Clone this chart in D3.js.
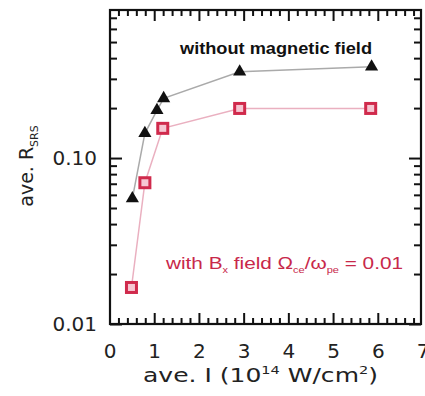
<!DOCTYPE html>
<html><head><meta charset="utf-8">
<script src="https://cdn.jsdelivr.net/npm/d3@7"></script>
<style>body{margin:0;background:#fff}svg{display:block}</style>
</head><body>
<script>
const noFieldX = [0.5, 0.78, 1.05, 1.2, 2.9, 5.85];
const noFieldY = [0.057, 0.141, 0.194, 0.229, 0.331, 0.355];
const bFieldX = [0.48, 0.78, 1.18, 2.9, 5.83];
const bFieldY = [0.0166, 0.071, 0.151, 0.199, 0.199];
const xTicks = [0, 1, 2, 3, 4, 5, 6, 7];
const yTickLabels = [{v: 0.01, t: "0.01"}, {v: 0.1, t: "0.10"}];

const W = 425, H = 396;
const svg = d3.select("body").append("svg").attr("width", W).attr("height", H);
const x = d3.scaleLinear().domain([0, 7]).range([110, 423]);
const y = d3.scaleLog().domain([0.01, 0.78]).range([324, 10]);
const font = "DejaVu Sans, sans-serif";
const L = 110, R = 421, T = 10, B = 324;

const xAll = d3.range(0, 35).map(i => ({v: i / 5, major: i % 5 === 0}));
const yMinor = [];
[0.01, 0.1].forEach(d => { for (let k = 2; k <= 9; k++) { const v = d * k; if (v <= 0.78) yMinor.push(v); } });

function styleAxis(g) {
  g.select(".domain").remove();
  g.selectAll(".tick line").attr("stroke", "#111").attr("stroke-width", 2);
  g.selectAll(".tick text").remove();
}
// x ticks, bottom and top, as thin bars
const xt1 = svg.append("g").attr("fill", "#111");
xt1.selectAll("rect.b").data(xAll).enter().append("rect")
  .attr("x", d => x(d.v) - 1).attr("width", 2)
  .attr("y", d => B - (d.major ? 11 : 6)).attr("height", d => d.major ? 11 : 6);
xt1.selectAll("rect.t").data(xAll).enter().append("rect")
  .attr("x", d => x(d.v) - 1).attr("width", 2)
  .attr("y", T).attr("height", d => d.major ? 11 : 6);
// left
svg.append("g").attr("transform", `translate(${L},0)`)
  .call(d3.axisLeft(y).tickValues([0.01, 0.1]).tickSize(-12)).call(styleAxis);
svg.append("g").attr("transform", `translate(${L},0)`)
  .call(d3.axisLeft(y).tickValues(yMinor).tickSize(-7)).call(styleAxis);
// right
svg.append("g").attr("transform", `translate(${R},0)`)
  .call(d3.axisRight(y).tickValues([0.01, 0.1]).tickSize(-12)).call(styleAxis);
svg.append("g").attr("transform", `translate(${R},0)`)
  .call(d3.axisRight(y).tickValues(yMinor).tickSize(-7)).call(styleAxis);

// frame
svg.append("rect").attr("x", L).attr("y", T).attr("width", R - L).attr("height", B - T)
  .attr("fill", "none").attr("stroke", "#111").attr("stroke-width", 2.2);

svg.selectAll("text.xt").data(xTicks).enter().append("text")
  .attr("x", d => x(d)).attr("y", 358).attr("text-anchor", "middle")
  .attr("font-family", font).attr("font-size", 20).attr("fill", "#222").text(d => d);
svg.selectAll("text.yt").data(yTickLabels).enter().append("text")
  .attr("x", 97).attr("y", d => y(d.v) + 7).attr("text-anchor", "end")
  .attr("font-family", font).attr("font-size", 20).attr("fill", "#222").text(d => d.t);

// axis titles
const xt = svg.append("text").attr("x", 143).attr("y", 382)
  .attr("font-family", font).attr("font-size", 19).attr("fill", "#222")
  .attr("textLength", 235).attr("lengthAdjust", "spacingAndGlyphs");
xt.append("tspan").text("ave. I (10");
xt.append("tspan").attr("dy", -8).attr("font-size", 11).text("14");
xt.append("tspan").attr("dy", 8).text(" W/cm");
xt.append("tspan").attr("dy", -8).attr("font-size", 11).text("2");
xt.append("tspan").attr("dy", 8).text(")");

const yt = svg.append("text").attr("transform", "translate(33,166) rotate(-90)").attr("text-anchor", "middle")
  .attr("font-family", font).attr("font-size", 19).attr("fill", "#222");
yt.append("tspan").text("ave. R");
yt.append("tspan").attr("dy", 5).attr("font-size", 11).text("SRS");

// lines
const pts = (xs, ys) => xs.map((v, i) => [v, ys[i]]);
const line = d3.line().x(d => x(d[0])).y(d => y(d[1]));
svg.append("path").attr("d", line(pts(noFieldX, noFieldY))).attr("fill", "none")
  .attr("stroke", "#aaa").attr("stroke-width", 1.5);
svg.append("path").attr("d", line(pts(bFieldX, bFieldY))).attr("fill", "none")
  .attr("stroke", "#eab0c0").attr("stroke-width", 1.5);

// markers
const tri = d3.symbol().type(d3.symbolTriangle).size(75);
svg.selectAll("path.tri").data(pts(noFieldX, noFieldY)).enter().append("path")
  .attr("transform", d => `translate(${x(d[0])},${y(d[1])})`).attr("d", tri)
  .attr("fill", "#111");
svg.selectAll("rect.sq").data(pts(bFieldX, bFieldY)).enter().append("rect")
  .attr("x", d => x(d[0]) - 5).attr("y", d => y(d[1]) - 5).attr("width", 10).attr("height", 10)
  .attr("fill", "#f6c6d2").attr("stroke", "#d02a4c").attr("stroke-width", 3);

// annotations
svg.append("text").attr("x", 180).attr("y", 54).attr("font-family", "Liberation Sans, Arial, sans-serif")
  .attr("font-size", 17).attr("font-weight", "bold").attr("fill", "#111")
  .attr("textLength", 192).attr("lengthAdjust", "spacingAndGlyphs").text("without magnetic field");
const rt = svg.append("text").attr("x", 166).attr("y", 269).attr("font-family", "Liberation Sans, Arial, sans-serif")
  .attr("font-size", 17).attr("fill", "#c8284a")
  .attr("textLength", 237).attr("lengthAdjust", "spacingAndGlyphs");
rt.append("tspan").text("with B");
rt.append("tspan").attr("dy", 4).attr("font-size", 9).text("x");
rt.append("tspan").attr("dy", -4).text(" field  Ω");
rt.append("tspan").attr("dy", 4).attr("font-size", 9).text("ce");
rt.append("tspan").attr("dy", -4).text("/ω");
rt.append("tspan").attr("dy", 4).attr("font-size", 9).text("pe");
rt.append("tspan").attr("dy", -4).text(" = 0.01");
</script>
</body></html>
